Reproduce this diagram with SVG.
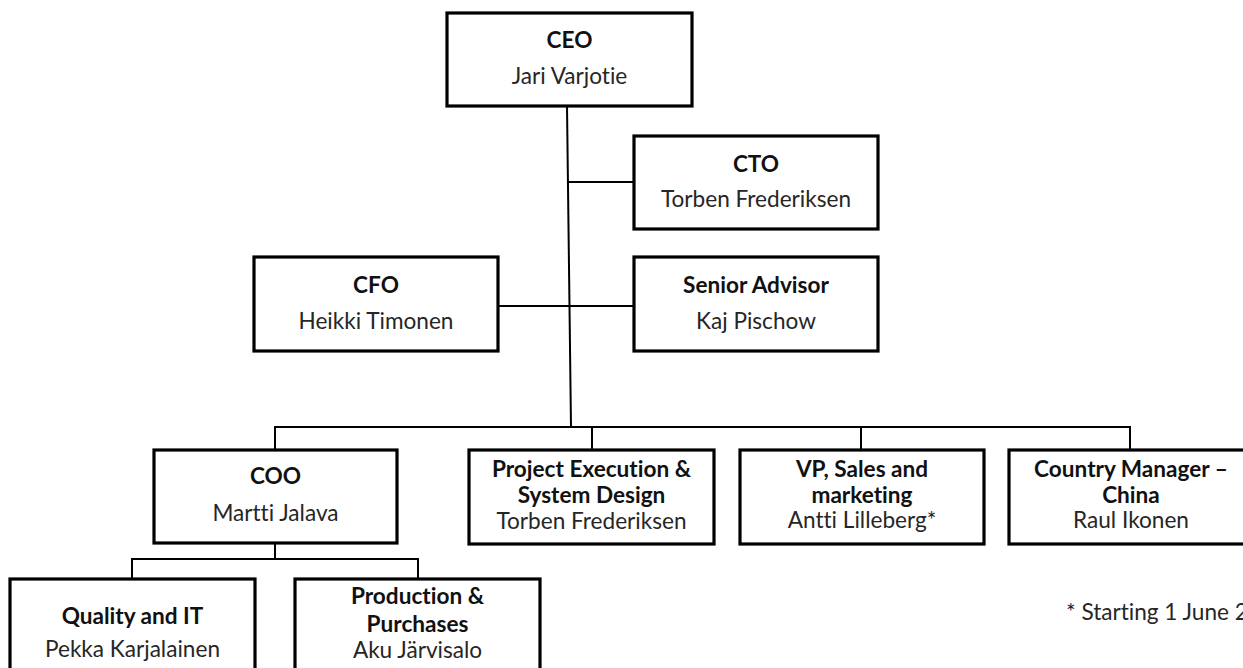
<svg xmlns="http://www.w3.org/2000/svg" width="1243" height="668" viewBox="0 0 1243 668">
<style>
.box{fill:#fff;stroke:#000;stroke-width:3.2}
.ln{fill:none;stroke:#000;stroke-width:2}
text{font-family:Lato,"Open Sans","Liberation Sans",sans-serif;font-size:22.6px;text-anchor:middle;fill:#262626;font-variant-ligatures:none}
.t{font-weight:bold;fill:#111}
.fn{text-anchor:start}
</style>
<rect width="1243" height="668" fill="#fff"/>
<g id="connectors">
<path class="ln" d="M567 106 L571 427"/>
<path class="ln" d="M568 182 H634"/>
<path class="ln" d="M498 306 H634"/>
<path class="ln" d="M275 450 V427 H1130 V450"/>
<path class="ln" d="M592 427 V450"/>
<path class="ln" d="M861 427 V450"/>
<path class="ln" d="M275 543 V559"/>
<path class="ln" d="M132 579 V559 H418 V579"/>
</g>
<g id="ceo"><rect class="box" x="447" y="13" width="245" height="93"/><text class="t" x="569.5" y="48">CEO</text><text x="569.5" y="84">Jari Varjotie</text></g>
<g id="cto"><rect class="box" x="634" y="136" width="244" height="93"/><text class="t" x="756" y="172">CTO</text><text x="756" y="207">Torben Frederiksen</text></g>
<g id="cfo"><rect class="box" x="254" y="257" width="244" height="94"/><text class="t" x="376" y="293">CFO</text><text x="376" y="329">Heikki Timonen</text></g>
<g id="advisor"><rect class="box" x="634" y="257" width="244" height="94"/><text class="t" x="756" y="293">Senior Advisor</text><text x="756" y="329">Kaj Pischow</text></g>
<g id="coo"><rect class="box" x="154" y="450" width="243" height="93"/><text class="t" x="275.5" y="484">COO</text><text x="275.5" y="521">Martti Jalava</text></g>
<g id="project"><rect class="box" x="469" y="450" width="245" height="94"/><text class="t" x="591.5" y="477">Project Execution &amp;</text><text class="t" x="591.5" y="503">System Design</text><text x="591.5" y="529">Torben Frederiksen</text></g>
<g id="vp"><rect class="box" x="740" y="450" width="244" height="94"/><text class="t" x="862" y="477">VP, Sales and</text><text class="t" x="862" y="503">marketing</text><text x="862" y="528">Antti Lilleberg*</text></g>
<g id="country"><rect class="box" x="1009" y="450" width="244" height="94"/><text class="t" x="1131" y="477">Country Manager –</text><text class="t" x="1131" y="503">China</text><text x="1131" y="528">Raul Ikonen</text></g>
<g id="quality"><rect class="box" x="10" y="579" width="245" height="110"/><text class="t" x="132.5" y="624">Quality and IT</text><text x="132.5" y="657">Pekka Karjalainen</text></g>
<g id="production"><rect class="box" x="295" y="579" width="245" height="110"/><text class="t" x="417.5" y="604">Production &amp;</text><text class="t" x="417.5" y="632">Purchases</text><text x="417.5" y="658">Aku Järvisalo</text></g>
<g id="footnote"><text class="fn" x="1066" y="620">* Starting 1 June 2</text></g>
</svg>
